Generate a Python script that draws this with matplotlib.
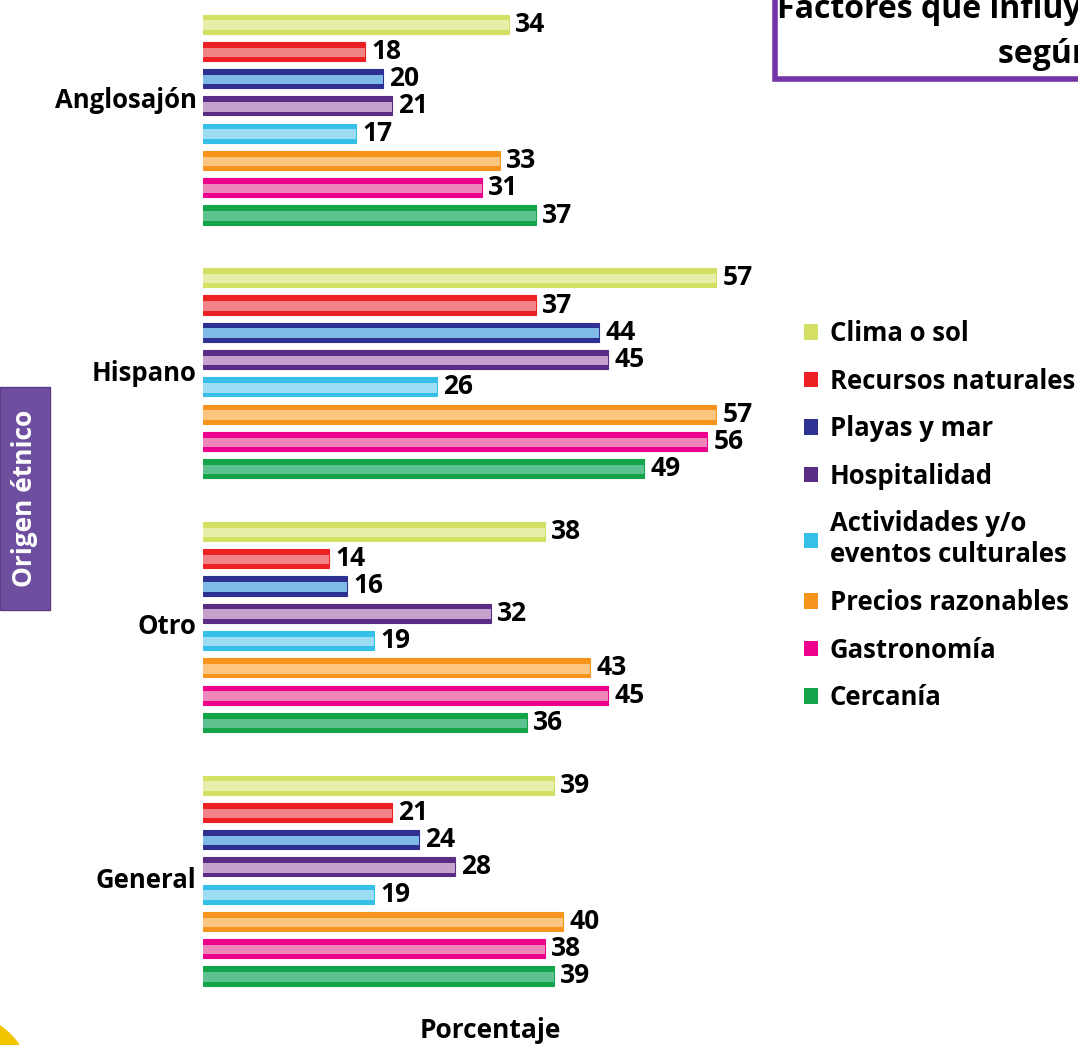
import matplotlib.pyplot as plt
import matplotlib.patches as mpatches

plt.rcParams['font.family'] = ['Open Sans', 'DejaVu Sans']
plt.rcParams['font.weight'] = 'bold'

# Datos
grupos = ["Anglosajón", "Hispano", "Otro", "General"]
factores = ["Clima o sol", "Recursos naturales", "Playas y mar", "Hospitalidad",
            "Actividades y/o\neventos culturales", "Precios razonables",
            "Gastronomía", "Cercanía"]
anglosajon = [34, 18, 20, 21, 17, 33, 31, 37]
hispano = [57, 37, 44, 45, 26, 57, 56, 49]
otro = [38, 14, 16, 32, 19, 43, 45, 36]
general = [39, 21, 24, 28, 19, 40, 38, 39]
valores = [anglosajon, hispano, otro, general]

# colores (parte de arriba, parte de abajo)
oscuro = ["#D4E064", "#ED2024", "#2E3192", "#5B2C86", "#36C0E8", "#F7941D", "#EC008C", "#13A44A"]
claro = ["#E6EEAA", "#F28387", "#80BAE6", "#C5A2CE", "#9DDDF3", "#FDC680", "#EE86BA", "#5EC290"]

fig = plt.figure(figsize=(10.78, 10.45), dpi=100)
ax = fig.add_axes([203 / 1078, 45 / 1045, 540 / 1078, 995 / 1045])

paso = 9.3
h = 0.7
centros = []
for g in range(len(grupos)):
    ys = [g * paso + i for i in range(len(factores))]
    centros.append(sum(ys) / len(ys))
    for i, y in enumerate(ys):
        v = valores[g][i]
        ax.barh(y, v, height=h, color=oscuro[i], edgecolor=oscuro[i], linewidth=0.8)
        ax.barh(y + 0.05 * h, v, height=0.5 * h, color=claro[i], linewidth=0)
        ax.text(v + 0.7, y, str(v), va='center', ha='left', fontsize=19, fontweight='bold')

ax.set_xlim(0, 60)
ax.set_ylim(35.78, -0.70)
ax.set_yticks([])
ax.set_xticks([])
for s in ax.spines.values():
    s.set_visible(False)

# nombres de los grupos (el primero queda algo mas arriba)
for g, nombre in enumerate(grupos):
    yy = centros[g] - (0.7 if g == 0 else 0)
    ax.text(-0.012, yy, nombre, transform=ax.get_yaxis_transform(), ha='right',
            va='center', fontsize=18.5, fontweight='bold')

fig.text(490 / 1078, 1 - 1030 / 1045, "Porcentaje", ha='center', va='center',
         fontsize=19, fontweight='bold')

# caja lateral
caja = mpatches.Rectangle((0, 1 - 610 / 1045), 50 / 1078, 223 / 1045,
                          transform=fig.transFigure, facecolor="#6E4E9E",
                          edgecolor="#5A3E86", linewidth=1)
fig.patches.append(caja)
fig.text(25 / 1078, 1 - 498 / 1045, "Origen étnico", rotation=90, ha='center',
         va='center', color='white', fontsize=19, fontweight='bold')

# caja del titulo
titulo_caja = mpatches.Rectangle((775 / 1078, 1 - 79 / 1045), 0.3, 0.2,
                                 transform=fig.transFigure, facecolor='white',
                                 edgecolor="#7434A6", linewidth=4, clip_on=False)
fig.patches.append(titulo_caja)
fig.text(777 / 1078, 1 - 32 / 1045,
         "Factores que influyen en la elección del destino\nsegún origen étnico",
         ha='left', va='center', multialignment='center', fontsize=23,
         fontweight='bold', linespacing=1.45)

# esquina amarilla
esquina = mpatches.Ellipse((-40 / 1078, 1 - 1085 / 1045), 144 / 1078, 144 / 1045,
                           transform=fig.transFigure, facecolor="#F2C500",
                           edgecolor='none')
fig.patches.append(esquina)

# leyenda
handles = [mpatches.Patch(facecolor=oscuro[i], label=factores[i]) for i in range(len(factores))]
fig.legend(handles=handles, loc='upper left', bbox_to_anchor=(804 / 1078, 1 - 320 / 1045),
           frameon=False, handlelength=0.55, handleheight=0.55,
           handletextpad=0.45, labelspacing=0.8, borderpad=0, borderaxespad=0,
           prop={'weight': 'bold', 'size': 18.5})

fig.savefig("out.png", dpi=100)
